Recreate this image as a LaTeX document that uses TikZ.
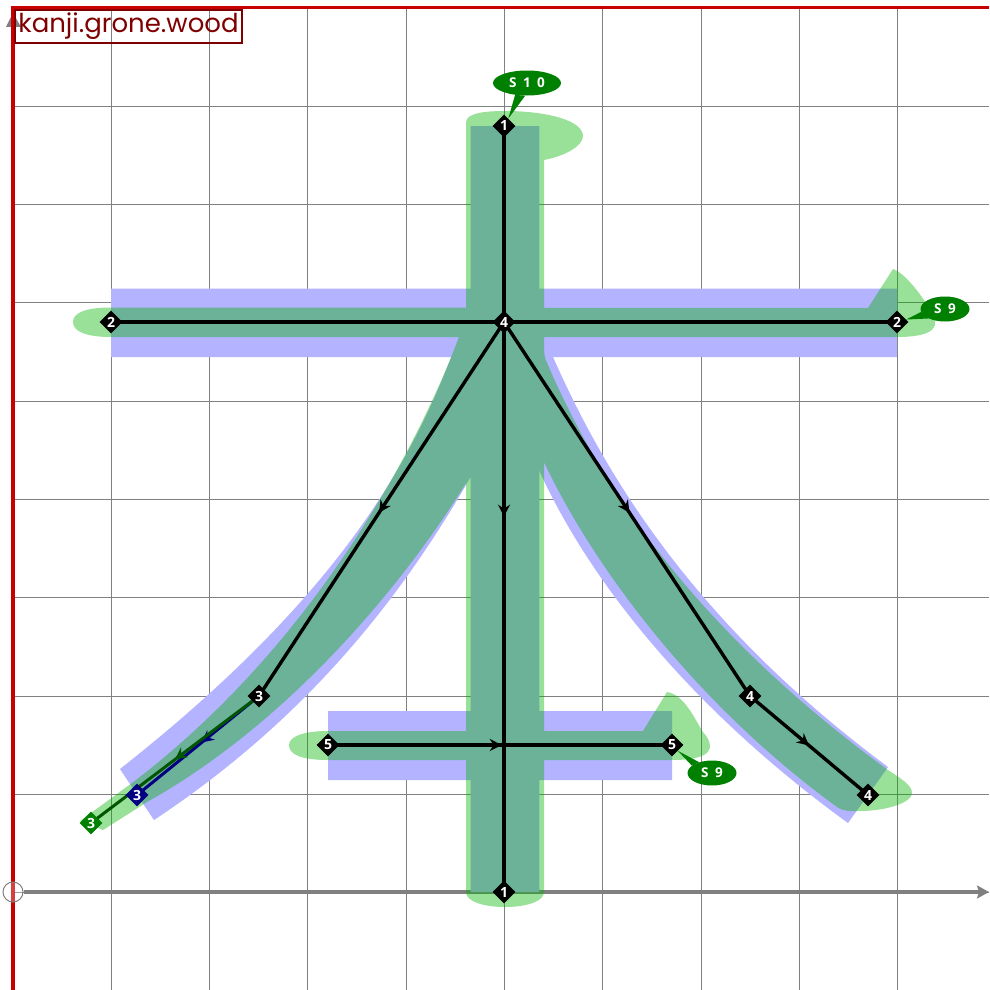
\documentclass[tikz,border=0pt]{standalone}
\usepackage{fontspec}
\setmainfont{Open Sans}
\newfontfamily\titlefont{Poppins}
\usetikzlibrary{shapes.geometric,arrows.meta,decorations.markings}
\pgfdeclarelayer{under}
\pgfsetlayers{under,main}
\definecolor{gridc}{HTML}{808080}
\definecolor{bluefill}{HTML}{B3B3FF}
\definecolor{greenfill}{rgb}{0,0.7,0}
\definecolor{redaxis}{HTML}{C80000}
\definecolor{titlec}{HTML}{800000}
\definecolor{bubc}{HTML}{008000}
\definecolor{navy}{HTML}{000080}
\definecolor{dgreen}{HTML}{005500}
\tikzset{
  gridline/.style={draw=gridc,line width=1.1pt},
  marker/.style={diamond,aspect=1,inner sep=0pt,minimum size=23pt,fill=#1,text=white,font=\bfseries\fontsize{14}{14}\selectfont},
  marker/.default=black,
  bubble/.style={ellipse,inner sep=0pt,minimum height=25pt,minimum width=#1,fill=bubc,text=white,font=\bfseries\fontsize{13.5}{14}\selectfont},
  midarrow/.style={postaction={decorate},decoration={markings,mark=at position #1 with {\arrow{Stealth[length=12pt,width=12pt,inset=4pt]}}}},
  conn/.style={line width=3.4pt,draw=#1},
  conn/.default=black
}
\begin{document}
\begin{tikzpicture}[x=1pt,y=-1pt]
\useasboundingbox (0,0) rectangle (989,990);
% markers
\node[marker] (a1) at (504,126) {1};
\node[marker] (b1) at (504,892) {1};
\node[marker] (a2) at (111,322) {2};
\node[marker] (b2) at (897,322) {2};
\node[marker] (c4) at (504,322) {4};
\node[marker] (d3) at (259,696) {3};
\node[marker=navy] (e3) at (137,795) {3};
\node[marker=bubc] (f3) at (91,823) {3};
\node[marker] (g4) at (750,696) {4};
\node[marker] (h4) at (868,795) {4};
\node[marker] (a5) at (328,745) {5};
\node[marker] (b5) at (672,745) {5};
% axis ends and origin
\coordinate (orig) at (13,892);
\coordinate (xend) at (989,892);
\coordinate (ytop) at (13,13);
\node[circle,draw=gridc,line width=1pt,minimum size=20pt,inner sep=0pt] (origc) at (orig) {};
\begin{pgfonlayer}{under}
\fill[white] (0,0) rectangle (989,990);
% grid
\foreach \i in {1,...,9} {
  \draw[gridline] ({13+98.3*\i},8) -- ({13+98.3*\i},990);
  \draw[gridline] (13,{8+98.3*\i}) -- (989,{8+98.3*\i});
}
% axes
\draw[draw=gridc,line width=4pt,-{Stealth[length=12pt,width=13pt,inset=2pt]}] (origc.east) -- (xend);
\fill[gridc] (ytop) -- (21,27) -- (6,27) -- cycle;
\draw[redaxis,line width=3pt] (13,8) -- (989,8);
\draw[redaxis,line width=4pt] (13.3,6.5) -- (13.3,990);
\fill[white,opacity=.25] (orig) circle (10);
% blue shape (opaque, hides the grid)
\fill[bluefill]
  (470.7,126) rectangle (539.3,892)
  (111,288.5) rectangle (897,357)
  (328,711) rectangle (672,780);
\fill[bluefill]
  (459,337) .. controls (420,440) and (360,580) .. (120,769)
  -- (154,820)
  .. controls (305,720) and (400,600) .. (470,478)
  -- (505,470) -- (505,337) -- cycle;
\fill[bluefill]
  (548,345) -- (553,357) .. controls (603,470) and (690,620) .. (888,767)
  -- (848,823)
  .. controls (684,704) and (586,574) .. (539,470)
  -- (505,470) -- (505,345) -- cycle;
% green shape
\fill[greenfill,fill opacity=.4]
  % vertical
  (466,892) -- (466,123)
  .. controls (466,116) and (474,111) .. (505,111)
  .. controls (545,111) and (583,120) .. (583,136)
  .. controls (583,146) and (565,156) .. (544,160)
  -- (544,892)
  .. controls (544,902) and (525,907) .. (505,907)
  .. controls (485,907) and (466,902) .. (466,892) -- cycle
  % upper horizontal
  (111,307.5) -- (868,308) -- (893,269)
  .. controls (903,272) and (920,292) .. (930,310)
  .. controls (942,326) and (935,337) .. (897,337)
  -- (111,337)
  .. controls (85,337) and (73,331) .. (73,322)
  .. controls (73,313) and (85,307.5) .. (111,307.5) -- cycle
  % lower horizontal
  (328,731) -- (643,731) -- (667,692)
  .. controls (685,695) and (695,720) .. (703,732)
  .. controls (717,748) and (712,760) .. (672,760)
  -- (328,760)
  .. controls (300,760) and (289,754) .. (289,745)
  .. controls (289,736) and (305,731) .. (328,731) -- cycle
  % left sweep
  (80,821) -- (132,783)
  .. controls (320,640) and (420,440) .. (459,337)
  -- (466,322) -- (466,483)
  .. controls (400,590) and (285,725) .. (147,802)
  -- (103,830) -- cycle
  % right sweep
  (540,322) -- (545,358)
  .. controls (592,470) and (682,620) .. (888,770)
  .. controls (900,778) and (912,785) .. (912,793)
  .. controls (912,803) and (885,811) .. (860,811)
  .. controls (850,811) and (845,812) .. (837,807)
  .. controls (690,700) and (590,560) .. (544,462)
  -- (540,455) -- cycle;
% connectors
\draw[conn,midarrow=.51] (a1.center) -- (b1.center);
\draw[conn] (a2.center) -- (c4.center);
\draw[conn] (c4.center) -- (b2.center);
\draw[conn,midarrow=.51] (c4.center) -- (d3.center);
\draw[conn,midarrow=.51] (c4.center) -- (g4.center);
\draw[conn,midarrow=.5] (g4.center) -- (h4.center);
\draw[conn,midarrow=.505] (a5.center) -- (b5.center);
\draw[conn=navy,line width=3pt,midarrow=.47] (d3.center) -- (e3.center);
\draw[conn=dgreen,line width=3pt,midarrow=.5] (d3.center) -- (f3.center);
\end{pgfonlayer}
% bubbles
\node[bubble=68pt] (s10) at (527,83) {S\hspace{3pt} 1\hspace{3pt} 0};
\node[bubble=49pt] (s9a) at (945,309) {S\hspace{3pt} 9};
\node[bubble=49pt] (s9b) at (712,773) {S\hspace{3pt} 9};
\fill[bubc] (s10.225) -- (a1.60) -- (s10.262) -- cycle;
\fill[bubc] (s9a.187) -- (b2.15) -- (s9a.210) -- cycle;
\fill[bubc] (s9b.140) -- (b5.-45) -- (s9b.160) -- cycle;
% title
\node[draw=titlec,line width=2pt,text=titlec,font=\titlefont\fontsize{26}{28}\selectfont,anchor=north west,minimum width=227pt,minimum height=33pt,inner sep=0pt] (title) at (14,9) {kanji.grone.wood};
\end{tikzpicture}
\end{document}
